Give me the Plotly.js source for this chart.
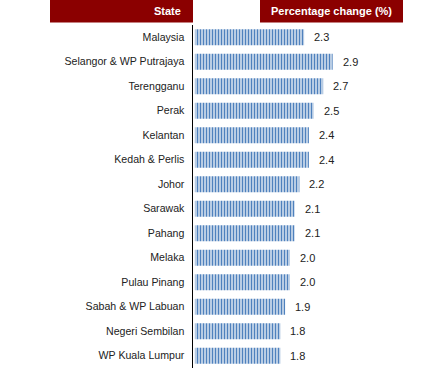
<!DOCTYPE html>
<html>
<head>
<meta charset="utf-8">
<script src="https://cdn.plot.ly/plotly-3.0.1.min.js"></script>
<style>html,body{margin:0;padding:0;background:#fff;}#chart{width:445px;height:382px;}</style>
</head>
<body>
<div id="chart"></div>
<script>
const states = ["Malaysia","Selangor & WP Putrajaya","Terengganu","Perak","Kelantan","Kedah & Perlis","Johor","Sarawak","Pahang","Melaka","Pulau Pinang","Sabah & WP Labuan","Negeri Sembilan","WP Kuala Lumpur"];
const change = [2.3,2.9,2.7,2.5,2.4,2.4,2.2,2.1,2.1,2.0,2.0,1.9,1.8,1.8];
const headerLeft = "State";
const headerRight = "Percentage change (%)";

const W = 445, H = 382;
const m = {l:193, r:20, t:25, b:14};
const pw = W - m.l - m.r, ph = H - m.t - m.b;
const px = x => (x - m.l) / pw;
const py = y => 1 - (y - m.t) / ph;
const red = '#8B0000';
const font = 'Arial, "Liberation Sans", sans-serif';

const trace = {
  type: 'bar', orientation: 'h',
  x: change, y: states,
  marker: {color: '#4F81BD', line: {width: 0},
    pattern: {shape: '|', fgcolor: '#4F81BD', bgcolor: '#ffffff', size: 3, solidity: 0.6}},
  hoverinfo: 'none'
};

const annotations = change.map((v, i) => ({
  x: v, y: states[i], xref: 'x', yref: 'y', text: v.toFixed(1),
  showarrow: false, xanchor: 'left', xshift: 8,
  font: {family: font, size: 11, color: '#222'}
}));
annotations.push({xref:'paper', yref:'paper', x: px(183), y: py(11), xanchor:'right', yanchor:'middle',
  text: '<b>' + headerLeft + '</b>', showarrow:false, font:{family:font, size:11, color:'#fff'}});
annotations.push({xref:'paper', yref:'paper', x: px(331), y: py(11), xanchor:'center', yanchor:'middle',
  text: '<b>' + headerRight + '</b>', showarrow:false, font:{family:font, size:11, color:'#fff'}});

const shapes = [
  {type:'rect', xref:'paper', yref:'paper', x0: px(50), x1: px(193), y0: py(0), y1: py(22.5), fillcolor: red, line:{width:0}, layer:'above'},
  {type:'rect', xref:'paper', yref:'paper', x0: px(260), x1: px(403), y0: py(0), y1: py(22.5), fillcolor: red, line:{width:0}, layer:'above'}
];

const layout = {
  width: W, height: H, margin: m,
  paper_bgcolor: '#fff', plot_bgcolor: '#fff',
  showlegend: false, bargap: 0.35,
  xaxis: {range: [-0.04, -0.04 + pw / 47.5], showgrid:false, zeroline:false, showline:false, showticklabels:false, fixedrange:true},
  yaxis: {autorange: 'reversed', showgrid:false, zeroline:false, showline:true, linecolor:'#000', linewidth:1.5,
    ticks:'', ticklabelstandoff: 5, tickfont:{family:font, size:10.6, color:'#222'}, fixedrange:true},
  annotations, shapes
};

Plotly.newPlot('chart', [trace], layout, {displayModeBar:false, staticPlot:true});
</script>
</body>
</html>
